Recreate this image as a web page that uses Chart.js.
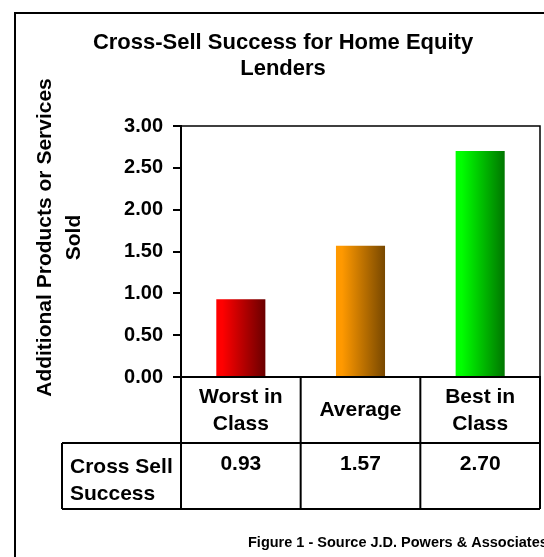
<!DOCTYPE html>
<html><head><meta charset="utf-8">
<script src="https://cdn.jsdelivr.net/npm/chart.js@4"></script>
<style>html,body{margin:0;padding:0;background:#fff;overflow:hidden}canvas{display:block}</style>
</head><body>
<canvas id="c" width="544" height="557"></canvas>
<script>
const categories = [['Worst in', 'Class'], ['Average'], ['Best in', 'Class']];
const crossSell = [0.93, 1.57, 2.70];
const yTicks = [0, 0.5, 1, 1.5, 2, 2.5, 3];
const barLight = ['#ff0000', '#ff9900', '#00ff00'];
const barDark = ['#6a0000', '#784800', '#007600'];
const titleLines = ['Cross-Sell Success for Home Equity', 'Lenders'];
const yTitleLines = ['Additional Products or Services', 'Sold'];
const rowLabel = ['Cross Sell', 'Success'];
const footerText = 'Figure 1 - Source J.D. Powers & Associates';
const FONT = '"Liberation Sans", Arial, Helvetica, sans-serif';
const BAR_PCT = 0.41;

const framePlugin = {
  id: 'frame',
  beforeDraw(chart) {
    const c = chart.ctx;
    c.save(); c.fillStyle = '#fff'; c.fillRect(0, 0, chart.width, chart.height); c.restore();
  },
  afterDraw(chart) {
    const c = chart.ctx, a = chart.chartArea, xs = chart.scales.x;
    c.save();
    c.strokeStyle = '#000';
    // outer frame
    c.lineWidth = 2;
    c.beginPath(); c.moveTo(15, chart.height); c.lineTo(15, 13); c.lineTo(chart.width, 13); c.stroke();
    // plot top/right border
    c.lineWidth = 1.5;
    c.beginPath(); c.moveTo(a.left, a.top); c.lineTo(a.right, a.top); c.lineTo(a.right, a.bottom); c.stroke();
    // data table
    const n = categories.length;
    const cw = (a.right - a.left) / n;
    const rowH = 66, hTop = a.bottom, hMid = hTop + rowH, hBot = hMid + rowH, labelLeft = 62;
    c.lineWidth = 2;
    c.beginPath();
    c.moveTo(labelLeft, hMid); c.lineTo(a.right, hMid);
    c.moveTo(labelLeft, hBot); c.lineTo(a.right, hBot);
    c.moveTo(labelLeft, hMid); c.lineTo(labelLeft, hBot);
    for (let i = 0; i < n; i++) {
      const x0 = xs.getPixelForValue(i) - cw / 2;
      c.moveTo(x0, hTop); c.lineTo(x0, hBot);
    }
    c.moveTo(xs.getPixelForValue(n - 1) + cw / 2, hTop); c.lineTo(xs.getPixelForValue(n - 1) + cw / 2, hBot);
    c.stroke();
    c.fillStyle = '#000';
    c.font = 'bold 21px ' + FONT;
    c.textBaseline = 'alphabetic';
    c.textAlign = 'left';
    c.fillText(rowLabel[0], 70, hMid + 30);
    c.fillText(rowLabel[1], 70, hMid + 57);
    c.textAlign = 'center';
    crossSell.forEach((v, i) => c.fillText(v.toFixed(2), xs.getPixelForValue(i), hMid + 27));
    // y axis title
    c.save();
    c.translate(0, 237.5);
    c.rotate(-Math.PI / 2);
    c.textAlign = 'center';
    c.textBaseline = 'middle';
    c.font = 'bold 21px ' + FONT;
    c.fillText(yTitleLines[0], 0, 45.7);
    c.fillText(yTitleLines[1], 0, 74.7);
    c.restore();
    // footer
    c.font = 'bold 14.5px ' + FONT;
    c.textAlign = 'left';
    c.textBaseline = 'alphabetic';
    c.fillText(footerText, 248, 547);
    c.restore();
  }
};

new Chart(document.getElementById('c'), {
  type: 'bar',
  data: {
    labels: categories,
    datasets: [{
      data: crossSell,
      borderWidth: 0,
      categoryPercentage: 1,
      barPercentage: BAR_PCT,
      backgroundColor: (ctx) => {
        const chart = ctx.chart, i = ctx.dataIndex;
        const xs = chart.scales && chart.scales.x;
        if (i === undefined) return barLight[0];
        if (!chart.chartArea || !xs) return barLight[i];
        const cx = xs.getPixelForValue(i);
        const w = (chart.chartArea.right - chart.chartArea.left) / categories.length * BAR_PCT;
        const g = chart.ctx.createLinearGradient(cx - w / 2, 0, cx + w / 2, 0);
        g.addColorStop(0, barLight[i]);
        g.addColorStop(0.12, barLight[i]);
        g.addColorStop(1, barDark[i]);
        return g;
      }
    }]
  },
  options: {
    responsive: false,
    animation: false,
    devicePixelRatio: 1,
    layout: { padding: { top: 14, left: 26, right: 4, bottom: 48 } },
    plugins: {
      legend: { display: false },
      tooltip: { enabled: false },
      title: {
        display: true, text: titleLines, color: '#000',
        font: { family: FONT, size: 22, weight: 'bold', lineHeight: 26 / 22 },
        padding: { top: 16, bottom: 44 }
      }
    },
    scales: {
      x: {
        grid: { display: false, drawTicks: false },
        border: { display: true, color: '#000', width: 2 },
        ticks: {
          color: '#000', font: { family: FONT, size: 21, weight: 'bold', lineHeight: 27 / 21 },
          padding: 20, crossAlign: 'center', maxRotation: 0, minRotation: 0, autoSkip: false
        },
        afterFit: (s) => { s.height = 132; }
      },
      y: {
        min: 0, max: 3,
        afterBuildTicks: (s) => { s.ticks = yTicks.map(v => ({ value: v })); },
        grid: { drawOnChartArea: false, drawTicks: true, tickLength: 8, color: '#000', lineWidth: 2 },
        border: { display: true, color: '#000', width: 2 },
        ticks: {
          color: '#000', font: { family: FONT, size: 20, weight: 'bold' }, padding: 10,
          callback: (v) => Number(v).toFixed(2)
        },
        afterFit: (s) => { s.width = 155; }
      }
    }
  },
  plugins: [framePlugin]
});
</script>
</body></html>
